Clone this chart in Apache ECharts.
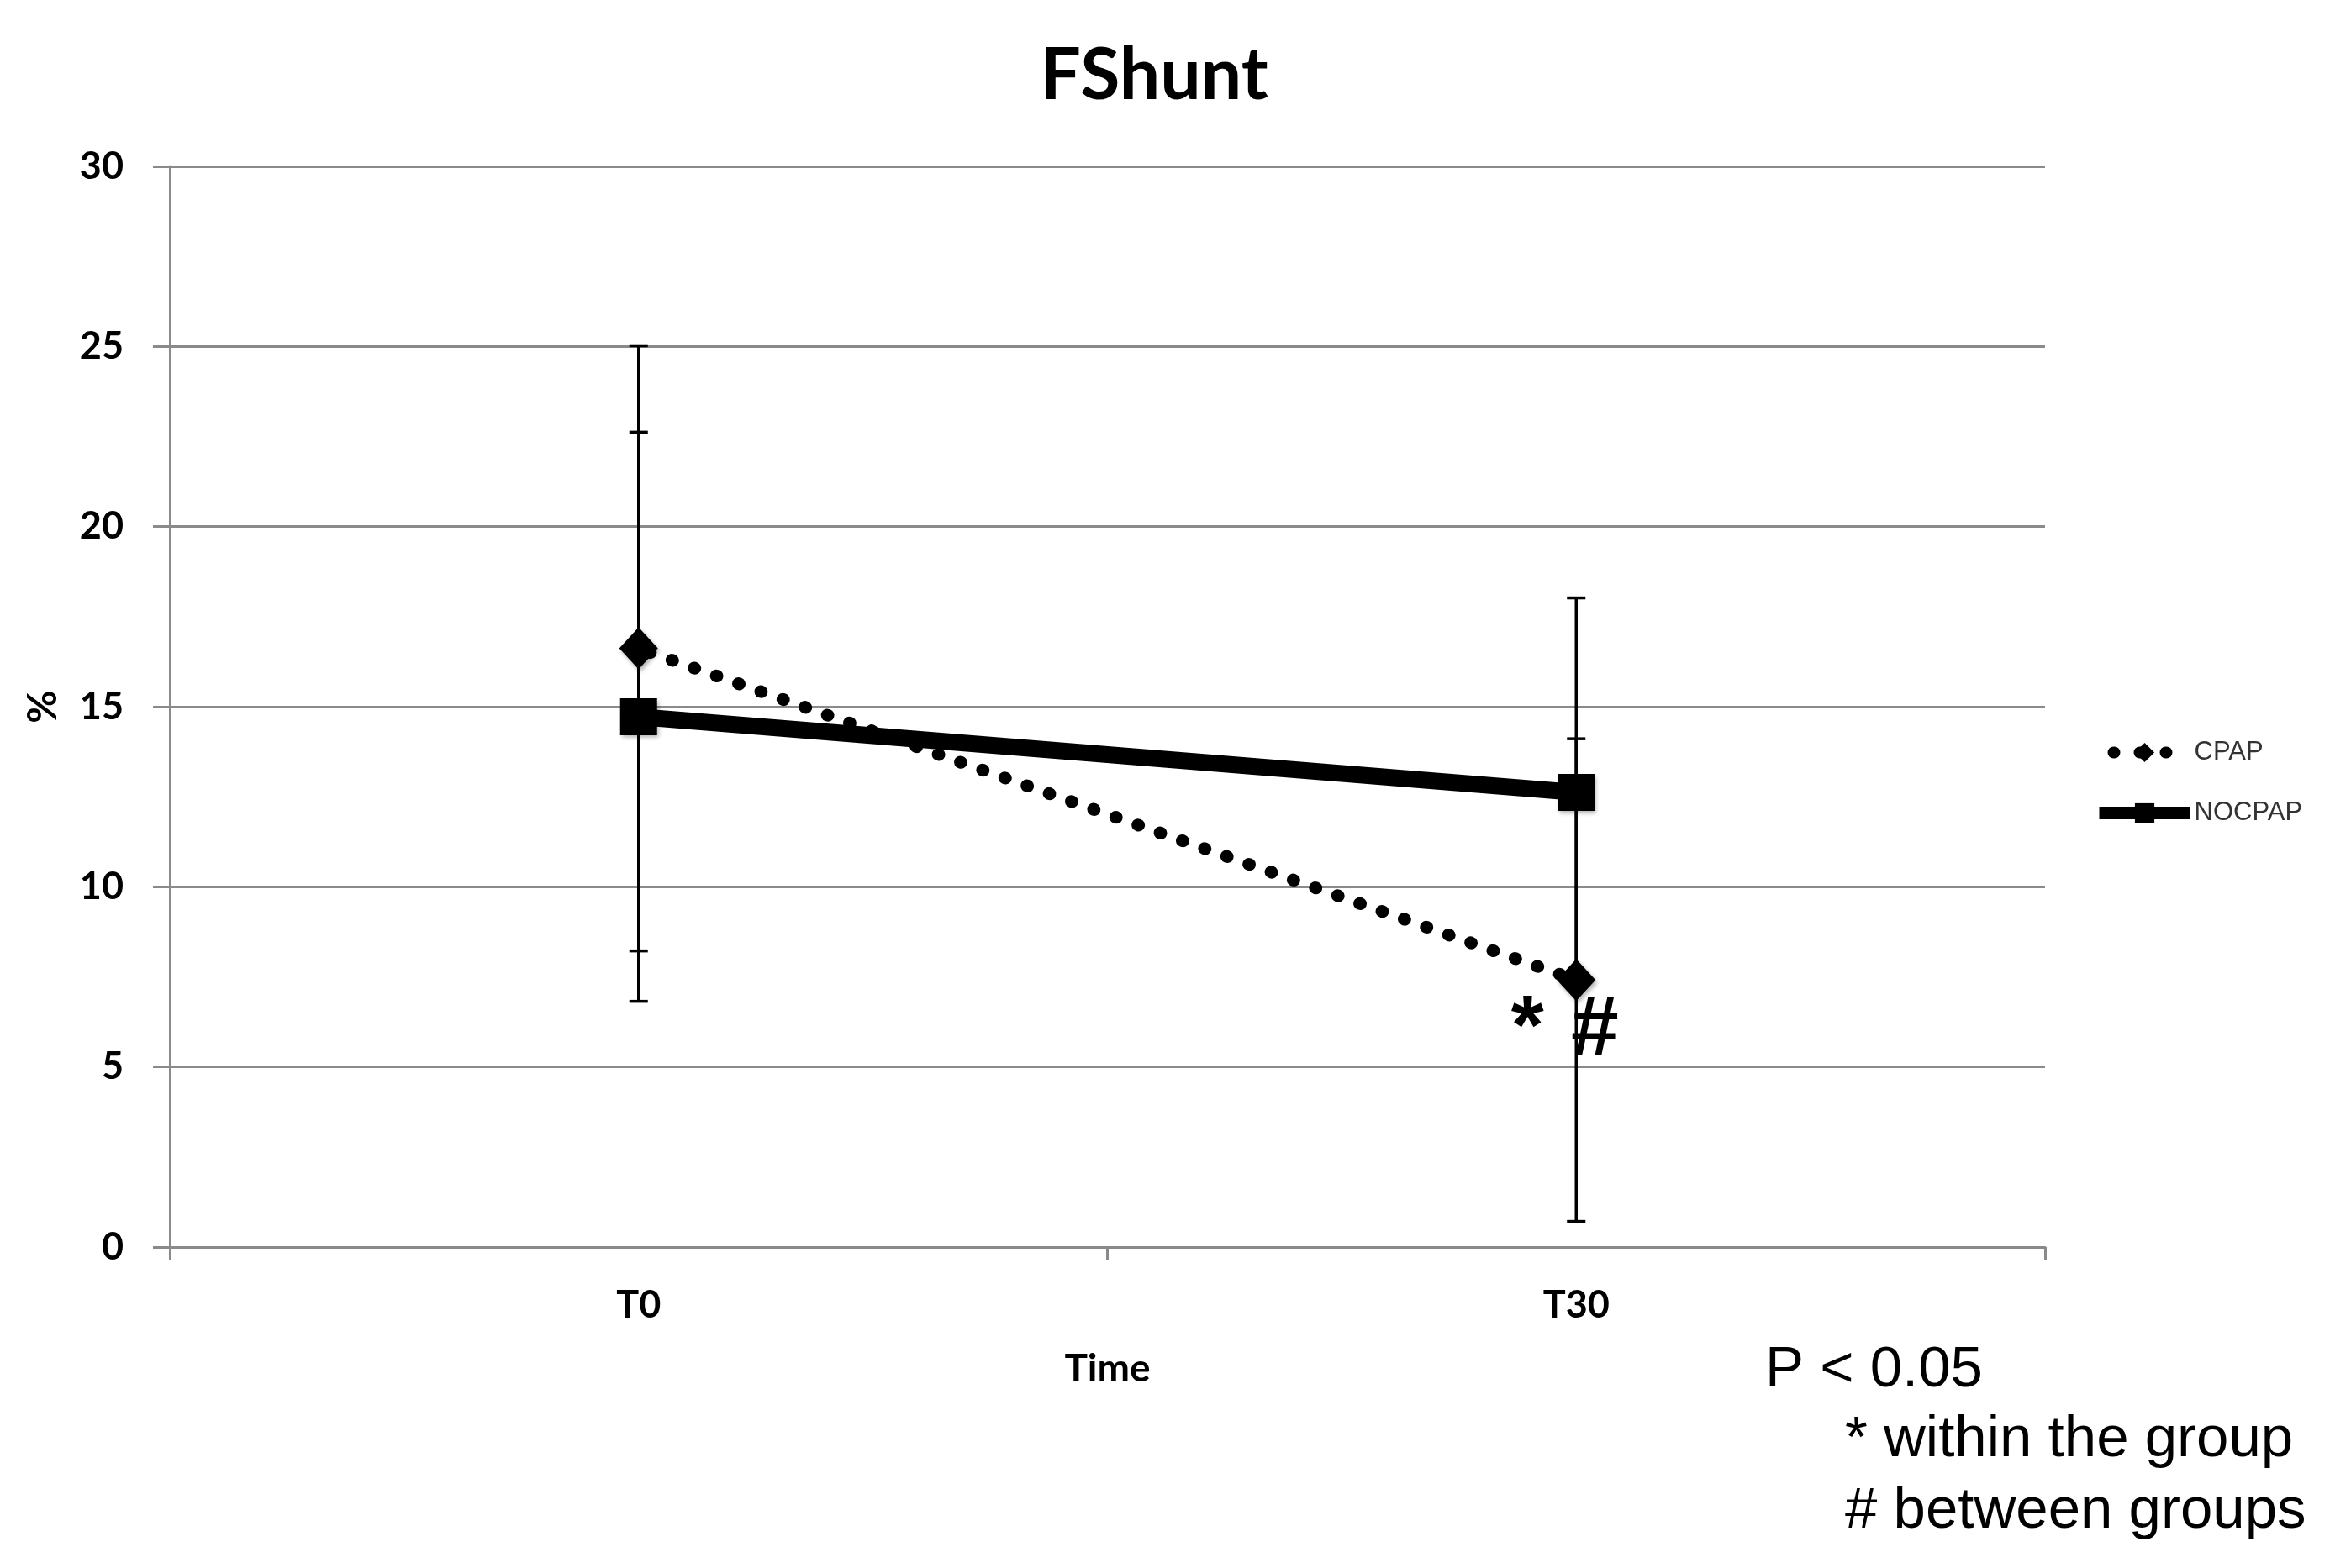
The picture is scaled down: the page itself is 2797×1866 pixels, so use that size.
<!DOCTYPE html>
<html><head><meta charset="utf-8">
<script src="https://cdn.jsdelivr.net/npm/echarts@6/dist/echarts.min.js"></script>
<style>html,body{margin:0;padding:0;background:#fff}#c{width:2797px;height:1866px}</style>
</head><body><div id="c"></div>
<script>
const categories = ['T0', 'T30'];
const seriesNames = ['CPAP', 'NOCPAP'];
const cpapMean = [16.62, 7.41];
const cpapSD = [8.4, 6.7];
const nocpapMean = [14.72, 12.62];
const nocpapSD = [7.9, 5.4];
const yMin = 0, yMax = 30, yStep = 5;
const titleText = 'FShunt';
const xName = 'Time';
const yName = '%';
const pNote = ['P < 0.05', '* within the group', '# between groups'];
const sigMarks = ['*', '#'];

const GRID = '#8a8a8a';
const boldFont = 'Lato';

function errData(mean, sd) {
  return mean.map((m, i) => [i, m - sd[i], m + sd[i]]);
}
function renderErr(params, api) {
  const x = api.value(0);
  const pLo = api.coord([x, api.value(1)]);
  const pHi = api.coord([x, api.value(2)]);
  const half = 11;
  const style = { stroke: '#000', lineWidth: 3.5 };
  return {
    type: 'group',
    children: [
      { type: 'line', shape: { x1: pHi[0], y1: pHi[1], x2: pLo[0], y2: pLo[1] }, style },
      { type: 'line', shape: { x1: pHi[0] - half, y1: pHi[1], x2: pHi[0] + half, y2: pHi[1] }, style },
      { type: 'line', shape: { x1: pLo[0] - half, y1: pLo[1], x2: pLo[0] + half, y2: pLo[1] }, style }
    ]
  };
}

const chart = echarts.init(document.getElementById('c'), null, { renderer: 'canvas' });
const markerShadow = { shadowBlur: 5, shadowColor: 'rgba(0,0,0,0.3)', shadowOffsetX: 2, shadowOffsetY: 3 };

const option = {
  animation: false,
  backgroundColor: '#fff',
  title: {
    text: titleText, left: 1373, top: 47, textAlign: 'center', padding: 0,
    textStyle: { fontFamily: boldFont, fontWeight: 'bold', fontSize: 86, color: '#000' }
  },
  grid: { left: 202, right: 364, top: 198, bottom: 382, containLabel: false },
  legend: {
    orient: 'vertical', left: 2490, top: 880, itemWidth: 108, itemHeight: 29, itemGap: 41, padding: 0,
    textStyle: { fontFamily: 'Liberation Sans', fontSize: 31, color: '#333' },
    data: [
      { name: seriesNames[0], lineStyle: { width: 14, type: [1, 30], cap: 'round', color: '#000' } },
      { name: seriesNames[1], lineStyle: { width: 15, color: '#000' } }
    ]
  },
  xAxis: {
    type: 'category', data: categories, boundaryGap: true,
    axisLine: { lineStyle: { color: GRID, width: 3 } },
    axisTick: { show: true, length: 15, lineStyle: { color: GRID, width: 3 } },
    axisLabel: { margin: 47, fontFamily: boldFont, fontWeight: 'bold', fontSize: 45, color: '#000' },
    splitLine: { show: false },
    name: xName, nameLocation: 'middle', nameGap: 122,
    nameTextStyle: { fontFamily: boldFont, fontWeight: 'bold', fontSize: 46, color: '#000' }
  },
  yAxis: {
    type: 'value', min: yMin, max: yMax, interval: yStep,
    axisLine: { show: true, lineStyle: { color: GRID, width: 3 } },
    axisTick: { show: true, length: 20, lineStyle: { color: GRID, width: 3 } },
    splitLine: { show: true, lineStyle: { color: GRID, width: 3 } },
    axisLabel: { margin: 55, fontFamily: boldFont, fontWeight: 'bold', fontSize: 45, color: '#000' },
    name: yName, nameLocation: 'middle', nameRotate: 90, nameGap: 126,
    nameTextStyle: { fontFamily: boldFont, fontWeight: 'bold', fontSize: 48, color: '#000' }
  },
  series: [
    {
      name: seriesNames[1], type: 'line', data: nocpapMean,
      symbol: 'rect', symbolSize: 44,
      itemStyle: Object.assign({ color: '#000' }, markerShadow),
      lineStyle: { color: '#000', width: 20 }, z: 3
    },
    {
      name: seriesNames[0], type: 'line', data: cpapMean,
      symbol: 'diamond', symbolSize: [46, 50],
      itemStyle: Object.assign({ color: '#000' }, markerShadow),
      lineStyle: { color: '#000', width: 15, type: [1, 27], cap: 'round', dashOffset: 14 }, z: 4
    },
    { type: 'custom', name: 'errCPAP', renderItem: renderErr, data: errData(cpapMean, cpapSD), encode: { x: 0, y: [1, 2] }, z: 5, silent: true },
    { type: 'custom', name: 'errNOCPAP', renderItem: renderErr, data: errData(nocpapMean, nocpapSD), encode: { x: 0, y: [1, 2] }, z: 5, silent: true }
  ]
};
chart.setOption(option);

const pt = chart.convertToPixel({ seriesIndex: 1 }, [1, cpapMean[1]]);
chart.setOption({
  graphic: [
    { type: 'text', x: pt[0] - 58, y: pt[1] + 60, style: { text: sigMarks[0], font: 'bold 100px "Liberation Sans"', fill: '#000', align: 'center', verticalAlign: 'middle' }, z: 10 },
    { type: 'text', x: pt[0] + 22, y: pt[1] + 62, style: { text: sigMarks[1], font: 'bold 102px "Liberation Sans"', fill: '#000', align: 'center', verticalAlign: 'middle' }, z: 10 },
    { type: 'text', x: 2100, y: 1631, style: { text: pNote[0], font: '69px "Liberation Sans"', fill: '#000', align: 'left', verticalAlign: 'middle' } },
    { type: 'text', x: 2195, y: 1714, style: { text: pNote[1], font: '69px "Liberation Sans"', fill: '#000', align: 'left', verticalAlign: 'middle' } },
    { type: 'text', x: 2195, y: 1799, style: { text: pNote[2], font: '69px "Liberation Sans"', fill: '#000', align: 'left', verticalAlign: 'middle' } }
  ]
});
</script>
</body></html>
